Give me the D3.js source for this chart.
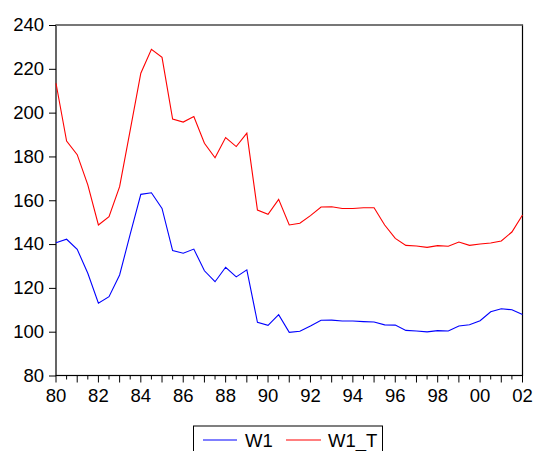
<!DOCTYPE html>
<html>
<head>
<meta charset="utf-8">
<script src="https://cdn.jsdelivr.net/npm/d3@7"></script>
<style>
  body { margin: 0; background: #fff; }
  svg { display: block; font-family: "Liberation Sans", Arial, sans-serif; }
</style>
</head>
<body>
<div id="chart"></div>
<script>
// semi-annual observations, 1980S1 .. 2002S1
const startYear = 1980;
const step = 0.5;

const w1 = [
  140.6, 142.2, 137.6, 126.7, 113.0, 116.0, 125.9, 144.5, 162.7, 163.4,
  156.3, 137.0, 135.8, 137.7, 127.8, 122.8, 129.4, 125.0, 128.2, 104.3,
  102.9, 107.8, 99.7, 100.2, 102.6, 105.2, 105.3, 104.9, 104.9, 104.6,
  104.4, 103.1, 103.0, 100.6, 100.3, 99.9, 100.5, 100.3, 102.6, 103.2,
  105.0, 109.1, 110.5, 110.0, 107.9
];

const w1T = [
  213.4, 187.0, 180.8, 167.0, 148.7, 152.5, 166.2, 192.0, 218.0, 228.9,
  225.2, 197.1, 195.7, 198.2, 186.0, 179.4, 188.6, 184.5, 190.6, 155.5,
  153.6, 160.4, 148.7, 149.5, 153.0, 156.9, 157.0, 156.2, 156.2, 156.6,
  156.6, 148.7, 142.6, 139.4, 139.1, 138.5, 139.3, 139.0, 140.9, 139.4,
  140.0, 140.5, 141.4, 145.5, 153.3
];

const yTicks = [80, 100, 120, 140, 160, 180, 200, 220, 240];
const xLabelYears = d3.range(1980, 2003, 2);
const seriesNames = ['W1', 'W1_T'];
const seriesColors = ['#0000ff', '#ff0000'];

const W = 535, H = 451;
const margin = { top: 25, right: 12.5, bottom: 75.5, left: 56 };
const FONT = 18.5;

const svg = d3.select('#chart').append('svg')
  .attr('width', W)
  .attr('height', H);

const x = d3.scaleLinear()
  .domain([1980, 2002])
  .range([margin.left, W - margin.right]);

const y = d3.scaleLinear()
  .domain([80, 240])
  .range([H - margin.bottom, margin.top]);

const t = (i) => startYear + i * step;

// frame
svg.append('rect')
  .attr('x', x(1980))
  .attr('y', y(240))
  .attr('width', x(2002) - x(1980))
  .attr('height', y(80) - y(240))
  .attr('fill', 'none')
  .attr('stroke', '#000')
  .attr('stroke-width', 1.2);

svg.append('line')
  .attr('x1', x(1980)).attr('x2', x(2002))
  .attr('y1', y(240)).attr('y2', y(240))
  .attr('stroke', '#777')
  .attr('stroke-width', 1.8);

// y axis
const yAxis = d3.axisLeft(y)
  .tickValues(yTicks)
  .tickSize(7)
  .tickPadding(5);

svg.append('g')
  .attr('transform', `translate(${x(1980)},0)`)
  .call(yAxis)
  .call((g) => g.select('.domain').remove())
  .call((g) => g.selectAll('.tick line').attr('stroke', '#000'))
  .call((g) => g.selectAll('.tick text')
    .attr('font-size', FONT)
    .attr('font-family', '"Liberation Sans", Arial, sans-serif')
    .attr('fill', '#000'));

// x axis: long ticks at years, short at half years, labels every 2 years
const xg = svg.append('g')
  .attr('transform', `translate(0,${y(80)})`);

xg.selectAll('line.minor')
  .data(d3.range(1980, 2002.01, 0.5))
  .enter().append('line')
    .attr('x1', (d) => x(d))
    .attr('x2', (d) => x(d))
    .attr('y1', 0)
    .attr('y2', (d) => Number.isInteger(d) ? 7 : 4)
    .attr('stroke', '#000');

xg.selectAll('text')
  .data(xLabelYears)
  .enter().append('text')
    .attr('x', (d) => x(d))
    .attr('y', 26.5)
    .attr('text-anchor', 'middle')
    .attr('font-size', FONT)
    .text((d) => String(d % 100).padStart(2, '0'));

// lines
const line = d3.line()
  .x((d, i) => x(t(i)))
  .y((d) => y(d));

[w1, w1T].forEach((series, k) => {
  svg.append('path')
    .datum(series)
    .attr('fill', 'none')
    .attr('stroke', seriesColors[k])
    .attr('stroke-width', 1.1)
    .attr('stroke-linejoin', 'miter')
    .attr('d', line);
});

// legend
const lg = svg.append('g');

lg.append('rect')
  .attr('x', 193.5)
  .attr('y', 426)
  .attr('width', 189)
  .attr('height', 40)
  .attr('fill', '#fff')
  .attr('stroke', '#000');

const legendItems = [
  { x0: 203, x1: 237, tx: 245 },
  { x0: 286, x1: 321, tx: 328 }
];

legendItems.forEach((it, k) => {
  lg.append('line')
    .attr('x1', it.x0).attr('x2', it.x1)
    .attr('y1', 440).attr('y2', 440)
    .attr('stroke', seriesColors[k])
    .attr('stroke-width', 1.1);
  lg.append('text')
    .attr('x', it.tx)
    .attr('y', 446.5)
    .attr('font-size', FONT)
    .text(seriesNames[k]);
});
</script>
</body>
</html>
